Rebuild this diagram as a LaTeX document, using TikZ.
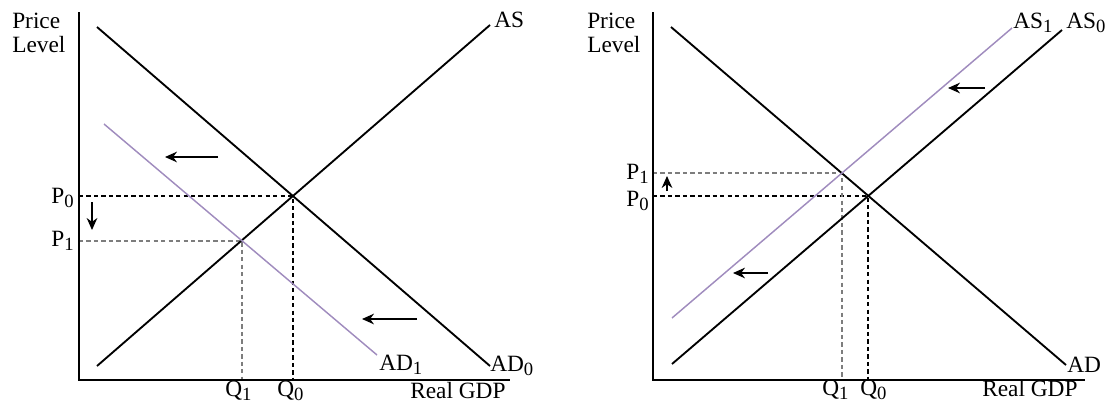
\documentclass[tikz,border=0pt]{standalone}
\usepackage{fontspec}
\setmainfont{Liberation Serif}
\usetikzlibrary{arrows.meta}
\definecolor{shiftpurple}{RGB}{160,140,190}
\definecolor{guidegray}{RGB}{125,125,125}
\newcommand{\lsub}[1]{\raisebox{-0.4ex}{\fontsize{14}{14}\selectfont #1}}
\begin{document}
\begin{tikzpicture}[x=0.75pt,y=-0.75pt,
  axisline/.style={line width=1.4pt,black},
  curveline/.style={line width=1.4pt,black},
  shiftline/.style={line width=1.1pt,shiftpurple},
  guide/.style={line width=1.1pt,black,dash pattern=on 3.2pt off 2.4pt},
  guidelight/.style={line width=0.8pt,guidegray,dash pattern=on 3.2pt off 2.4pt},
  shiftarrow/.style={-{Stealth[length=9pt,width=8pt]},line width=1.1pt},
  lbl/.style={font=\fontsize{17.5}{20}\selectfont,inner sep=0pt}]
\useasboundingbox (0,0) rectangle (1114,407);

% ---------- Left panel ----------
\coordinate (LO) at (79,380);
\coordinate (LYt) at (79,12);
\coordinate (LXe) at (510,380);
\coordinate (AD0a) at (97,27);
\coordinate (AD0b) at (490,366);
\coordinate (ASa) at (97,366);
\coordinate (ASb) at (490,25);
\coordinate (AD1a) at (104,124);
\coordinate (AD1b) at (377,355);
\coordinate (E0) at (293,196);
\coordinate (E1) at (242,241);
\coordinate (P0L) at (79,196);
\coordinate (P1L) at (79,241);
\coordinate (Q0L) at (293,380);
\coordinate (Q1L) at (242,380);

\draw[guide] (P0L) -- (E0) -- (Q0L);
\draw[guidelight] (P1L) -- (E1) -- (Q1L);
\draw[axisline] (LYt) -- (LO) -- (LXe);
\draw[curveline] (AD0a) -- (AD0b);
\draw[curveline] (ASa) -- (ASb);
\draw[shiftline] (AD1a) -- (AD1b);

\node[lbl,anchor=base west] (pl1) at (12,28) {Price};
\node[lbl,anchor=base west] (ll1) at (12,52) {Level};
\node[lbl,anchor=base west] (asl) at (494,27) {AS};
\node[lbl,anchor=base west] (ad0l) at (490,371) {AD\lsub{0}};
\node[lbl,anchor=base west] (ad1l) at (379,370) {AD\lsub{1}};
\node[lbl,anchor=base east] (p0l) at (74,203) {P\lsub{0}};
\node[lbl,anchor=base east] (p1l) at (74,246) {P\lsub{1}};
\node[lbl,anchor=base west] (q1l) at (225,396) {Q\lsub{1}};
\node[lbl,anchor=base west] (q0l) at (277,396) {Q\lsub{0}};
\node[lbl,anchor=base west] (rgl) at (410,398) {Real GDP};

\coordinate (la1s) at (218,157); \coordinate (la1e) at (165,157);
\coordinate (la2s) at (417,319); \coordinate (la2e) at (362,319);
\coordinate (lda) at (92,202); \coordinate (ldb) at (92,230);
\draw[shiftarrow] (la1s) -- (la1e);
\draw[shiftarrow] (la2s) -- (la2e);
\draw[shiftarrow] (lda) -- (ldb);

% ---------- Right panel ----------
\coordinate (RO) at (653,380);
\coordinate (RYt) at (653,12);
\coordinate (RXe) at (1085,380);
\coordinate (ADa) at (671,27);
\coordinate (ADb) at (1066,365);
\coordinate (AS0a) at (672,364);
\coordinate (AS0b) at (1062,30);
\coordinate (AS1a) at (672,318);
\coordinate (AS1b) at (1012,28);
\coordinate (F0) at (868,196);
\coordinate (F1) at (842,173);
\coordinate (P0R) at (653,196);
\coordinate (P1R) at (653,173);
\coordinate (Q0R) at (868,380);
\coordinate (Q1R) at (842,380);

\draw[guide] (P0R) -- (F0) -- (Q0R);
\draw[guidelight] (P1R) -- (F1) -- (Q1R);
\draw[axisline] (RYt) -- (RO) -- (RXe);
\draw[curveline] (ADa) -- (ADb);
\draw[curveline] (AS0a) -- (AS0b);
\draw[shiftline] (AS1a) -- (AS1b);

\node[lbl,anchor=base west] (pl2) at (587,28) {Price};
\node[lbl,anchor=base west] (ll2) at (587,52) {Level};
\node[lbl,anchor=base west] (as1l) at (1013,28) {AS\lsub{1}};
\node[lbl,anchor=base west] (as0l) at (1066,28) {AS\lsub{0}};
\node[lbl,anchor=base west] (adl) at (1067,372) {AD};
\node[lbl,anchor=base east] (p1r) at (649,179) {P\lsub{1}};
\node[lbl,anchor=base east] (p0r) at (649,206) {P\lsub{0}};
\node[lbl,anchor=base west] (q1r) at (822,395) {Q\lsub{1}};
\node[lbl,anchor=base west] (q0r) at (860,395) {Q\lsub{0}};
\node[lbl,anchor=base west] (rgr) at (982,396) {Real GDP};

\coordinate (ra1s) at (985,88); \coordinate (ra1e) at (948,88);
\coordinate (ra2s) at (768,273); \coordinate (ra2e) at (733,273);
\coordinate (rua) at (667,191); \coordinate (rub) at (667,176);
\draw[shiftarrow] (ra1s) -- (ra1e);
\draw[shiftarrow] (ra2s) -- (ra2e);
\draw[shiftarrow] (rua) -- (rub);
\end{tikzpicture}
\end{document}
